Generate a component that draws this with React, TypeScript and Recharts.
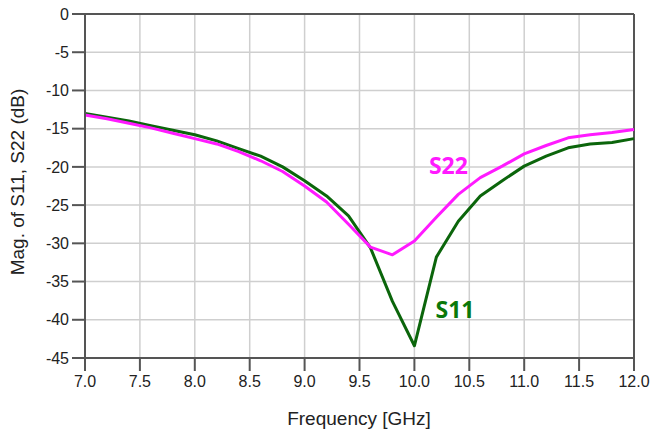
import { LineChart, Line, XAxis, YAxis, CartesianGrid, ReferenceLine, ReferenceDot } from "recharts"

// frequency sweep, GHz (0.2 GHz steps)
const freq = [
  7.0, 7.2, 7.4, 7.6, 7.8, 8.0, 8.2, 8.4, 8.6, 8.8, 9.0, 9.2, 9.4,
  9.6, 9.8, 10.0, 10.2, 10.4, 10.6, 10.8, 11.0, 11.2, 11.4, 11.6, 11.8, 12.0,
]

// |S11| in dB
const s11 = [
  -13.0, -13.5, -14.0, -14.6, -15.2, -15.8, -16.6, -17.6, -18.6, -20.0, -21.8, -23.8, -26.4,
  -30.6, -37.6, -43.4, -31.8, -27.1, -23.8, -21.8, -19.9, -18.6, -17.5, -17.0, -16.8, -16.3,
]

// |S22| in dB
const s22 = [
  -13.2, -13.7, -14.3, -14.9, -15.6, -16.3, -17.0, -18.0, -19.2, -20.6, -22.5, -24.6, -27.5,
  -30.5, -31.5, -29.7, -26.6, -23.6, -21.4, -19.9, -18.3, -17.2, -16.2, -15.8, -15.5, -15.1,
]

const xTicks = [7.0, 7.5, 8.0, 8.5, 9.0, 9.5, 10.0, 10.5, 11.0, 11.5, 12.0]
const yTicks = [0, -5, -10, -15, -20, -25, -30, -35, -40, -45]

const data = freq.map((f, i) => ({ f, s11: s11[i], s22: s22[i] }))

const axisColor = "#555"
const font = "Liberation Sans, Arial, sans-serif"
const tickStyle = { fontSize: 16, fill: "#222", fontFamily: font }

export default function App() {
  return (
    <div style={{ position: "absolute", left: 0, top: 0, width: 650, height: 435, background: "#fff" }}>
      <LineChart width={650} height={435} data={data} margin={{ top: 14, right: 16, bottom: 0, left: 0 }}>
        <CartesianGrid stroke="#cfcfcf" strokeWidth={1.5} />
        <XAxis
          dataKey="f"
          type="number"
          domain={[7, 12]}
          ticks={xTicks}
          tickFormatter={(v: number) => v.toFixed(1)}
          tick={tickStyle}
          tickSize={13}
          tickMargin={5}
          stroke={axisColor}
          strokeWidth={2}
          height={77}
          label={() => (
            <text x={359} y={425} textAnchor="middle" fontSize={19} fill="#222" fontFamily={font}>
              Frequency [GHz]
            </text>
          )}
        />
        <YAxis
          type="number"
          domain={[-45, 0]}
          ticks={yTicks}
          tick={tickStyle}
          tickSize={13}
          tickMargin={3}
          stroke={axisColor}
          strokeWidth={2}
          width={85}
          label={() => (
            <text
              x={24}
              y={182}
              transform="rotate(-90 24 182)"
              textAnchor="middle"
              fontSize={19}
              fill="#222"
              fontFamily={font}
            >
              Mag. of S11, S22 (dB)
            </text>
          )}
        />
        <ReferenceLine y={0} stroke={axisColor} strokeWidth={2} />
        <ReferenceLine x={12} stroke={axisColor} strokeWidth={2} />
        <Line
          dataKey="s11"
          stroke="#0b650b"
          strokeWidth={3}
          dot={false}
          strokeLinejoin="round"
          isAnimationActive={false}
        />
        <Line
          dataKey="s22"
          stroke="#ff1aff"
          strokeWidth={3}
          dot={false}
          strokeLinejoin="round"
          isAnimationActive={false}
        />
        <ReferenceDot
          x={10.31}
          y={-19.9}
          r={0}
          label={{
            value: "S22",
            fill: "#ff1aff",
            fontSize: 23,
            fontWeight: "bold",
            fontFamily: "Open Sans, sans-serif",
            position: "center",
          }}
        />
        <ReferenceDot
          x={10.37}
          y={-38.7}
          r={0}
          label={{
            value: "S11",
            fill: "#0a780a",
            fontSize: 23,
            fontWeight: "bold",
            fontFamily: "Open Sans, sans-serif",
            position: "center",
          }}
        />
      </LineChart>
    </div>
  )
}
